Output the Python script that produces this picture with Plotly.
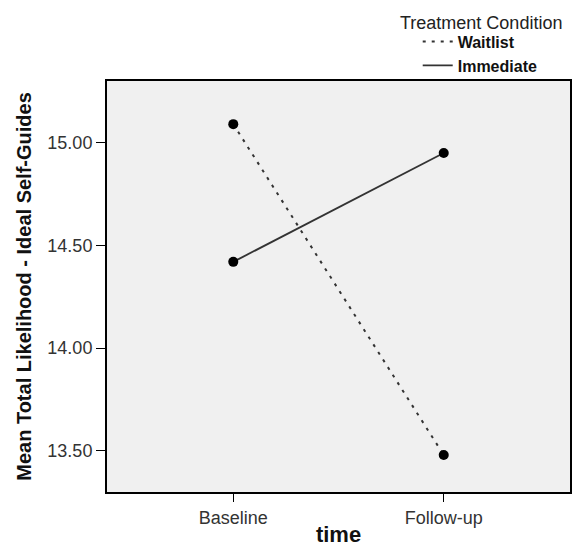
import plotly.graph_objects as go

# Data
time_points = ["Baseline", "Follow-up"]
waitlist = [15.09, 13.48]
immediate = [14.42, 14.95]
y_ticks = [13.5, 14.0, 14.5, 15.0]
legend_title = "Treatment Condition"

LINE_COLOR = "#333333"
FONT = "Liberation Sans, Arial, sans-serif"

fig = go.Figure()

# Waitlist (dotted line)
fig.add_trace(go.Scatter(
    x=time_points, y=waitlist, mode="lines", name="<b>Waitlist</b>",
    line=dict(color=LINE_COLOR, width=2, dash="3px,6px"),
))
# Immediate (solid line)
fig.add_trace(go.Scatter(
    x=time_points, y=immediate, mode="lines", name="<b>Immediate</b>",
    line=dict(color=LINE_COLOR, width=1.8),
))
# Markers
for series in (waitlist, immediate):
    fig.add_trace(go.Scatter(
        x=time_points, y=series, mode="markers", showlegend=False,
        marker=dict(color="black", size=10),
    ))

fig.update_layout(
    width=573, height=547,
    margin=dict(l=107, r=3, t=81, b=55, autoexpand=False),
    paper_bgcolor="white",
    plot_bgcolor="#f0f0f0",
    font=dict(family=FONT, color="#222222"),
    showlegend=True,
    legend=dict(
        xref="container", yref="container",
        x=0.729, xanchor="left", y=0.955, yanchor="top",
        font=dict(size=16, color="#111111"),
        bgcolor="rgba(0,0,0,0)",
        tracegroupgap=0, itemwidth=30,
    ),
    annotations=[dict(
        text=legend_title, xref="paper", yref="paper",
        x=0.808, y=1.142, xanchor="center", yanchor="middle",
        showarrow=False, font=dict(size=18, color="#222222"),
    )],
)

fig.update_xaxes(
    type="category", range=[-0.6, 1.6],
    showgrid=False, zeroline=False,
    showline=True, linecolor="black", linewidth=2, mirror=True,
    ticks="outside", ticklen=8, tickcolor="black", tickwidth=1,
    tickfont=dict(size=18, color="#333333"),
    title=dict(text="<b>time</b>", font=dict(size=22, color="#111111"), standoff=0),
)
fig.update_yaxes(
    range=[13.3, 15.3],
    tickvals=y_ticks, tickformat=".2f",
    showgrid=False, zeroline=False,
    showline=True, linecolor="black", linewidth=2, mirror=True,
    ticks="outside", ticklen=9, tickcolor="black", tickwidth=1,
    tickfont=dict(size=18, color="#333333"),
    title=dict(text="<b>Mean Total Likelihood - Ideal Self-Guides</b>",
               font=dict(size=20, color="#111111"), standoff=10),
)

fig.write_html(
    "out.html",
    config={"displayModeBar": False},
    post_script="document.body.style.margin='0';document.body.style.overflow='hidden';",
)
